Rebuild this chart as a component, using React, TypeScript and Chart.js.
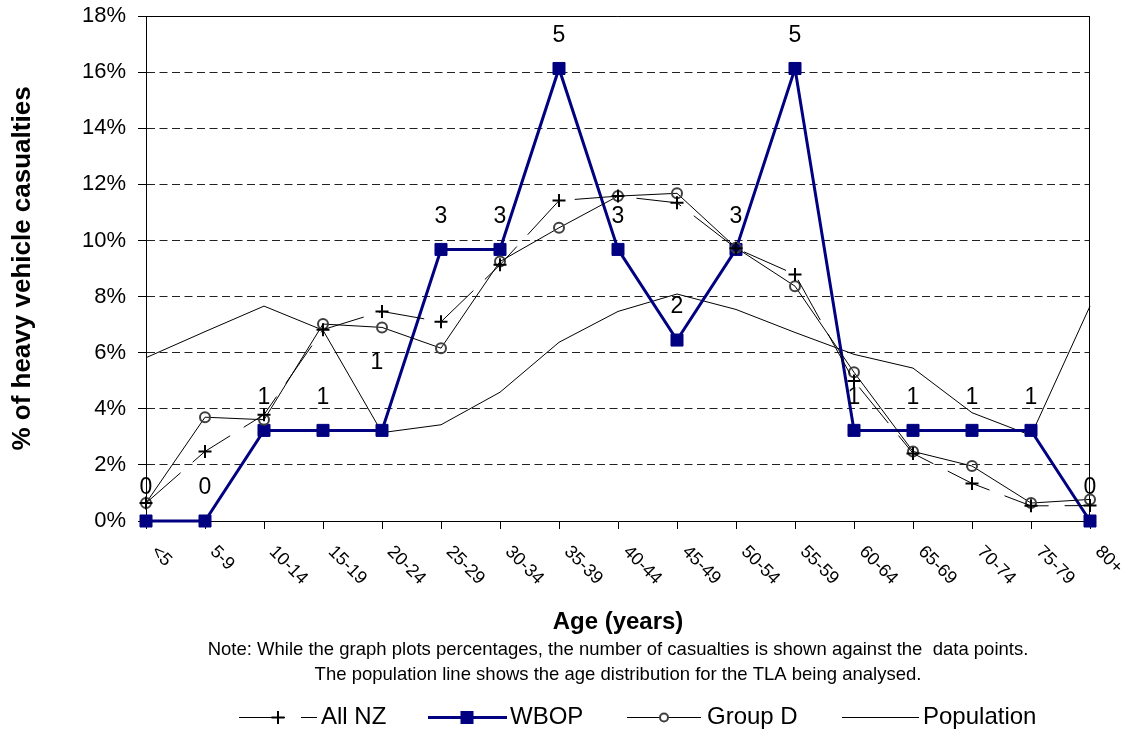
import React, { useEffect, useRef } from 'react';
import { Chart, registerables } from 'chart.js';

Chart.register(...registerables);

const AGE_GROUPS = ['<5', '5-9', '10-14', '15-19', '20-24', '25-29', '30-34', '35-39', '40-44', '45-49', '50-54', '55-59', '60-64', '65-69', '70-74', '75-79', '80+'];
const WBOP = [0, 0, 3.23, 3.23, 3.23, 9.68, 9.68, 16.13, 9.68, 6.45, 9.68, 16.13, 3.23, 3.23, 3.23, 3.23, 0];
const WBOP_COUNTS = [0, 0, 1, 1, 1, 3, 3, 5, 3, 2, 3, 5, 1, 1, 1, 1, 0];
const ALL_NZ = [0.64, 2.48, 3.79, 6.82, 7.47, 7.1, 9.13, 11.42, 11.58, 11.34, 9.72, 8.79, 4.99, 2.41, 1.34, 0.54, 0.55];
const GROUP_D = [0.64, 3.7, 3.61, 7.02, 6.9, 6.16, 9.25, 10.45, 11.58, 11.68, 9.74, 8.37, 5.3, 2.48, 1.96, 0.64, 0.77];
const POPULATION = [5.82, 6.75, 7.66, 6.8, 3.15, 3.43, 4.59, 6.37, 7.47, 8.09, 7.54, 6.72, 5.94, 5.45, 3.86, 3.05, 7.66];
const Y_MIN = 0;
const Y_MAX = 18;
const Y_STEP = 2;

const Y_TITLE = '% of heavy vehicle casualties';
const X_TITLE = 'Age (years)';
const NOTE_LINES = [
  'Note: While the graph plots percentages, the number of casualties is shown against the  data points.',
  'The population line shows the age distribution for the TLA being analysed.',
];
const LEGEND_LABELS = ['All NZ', 'WBOP', 'Group D', 'Population'];

const FONT = "'Liberation Sans', Arial, sans-serif";
const NAVY = '#000080';
const CIRCLE_GREY = '#404040';
const NZ_DASH = [46, 16];

const W = 1124;
const H = 731;

const decorPlugin = {
  id: 'decor',
  beforeDatasetsDraw(chart: any) {
    const { ctx, chartArea } = chart;
    ctx.save();
    ctx.strokeStyle = '#000';
    ctx.lineWidth = 1;
    ctx.setLineDash([]);
    ctx.beginPath();
    const t = Math.round(chartArea.top) + 0.5;
    const r = Math.round(chartArea.right) - 0.5;
    const b = Math.round(chartArea.bottom) + 0.5;
    ctx.moveTo(Math.round(chartArea.left) - 0.5, t);
    ctx.lineTo(r, t);
    ctx.lineTo(r, b);
    ctx.stroke();
    ctx.restore();
  },
  afterDatasetsDraw(chart: any) {
    const { ctx } = chart;
    const meta = chart.getDatasetMeta(2);
    ctx.save();
    ctx.fillStyle = '#000';
    ctx.font = `23px ${FONT}`;
    ctx.textAlign = 'center';
    ctx.textBaseline = 'middle';
    meta.data.forEach((pt: any, i: number) => {
      let dy = 33;
      let dx = 0;
      if (i === 4) {
        dy = 68;
        dx = -5;
      }
      ctx.fillText(String(WBOP_COUNTS[i]), pt.x + dx, pt.y - dy);
    });
    ctx.restore();
  },
  afterDraw(chart: any) {
    const { ctx, scales } = chart;
    const xs = scales.x;
    ctx.save();
    ctx.fillStyle = '#000';
    // rotated x tick labels
    ctx.font = `18px ${FONT}`;
    ctx.textAlign = 'left';
    ctx.textBaseline = 'middle';
    AGE_GROUPS.forEach((lab, i) => {
      const x = xs.getPixelForValue(i);
      ctx.save();
      ctx.translate(x + 8, 549);
      ctx.rotate(Math.PI / 4);
      ctx.fillText(lab, 0, 0);
      ctx.restore();
    });
    // x title
    const cx = (chart.chartArea.left + chart.chartArea.right) / 2;
    ctx.textAlign = 'center';
    ctx.font = `bold 24px ${FONT}`;
    ctx.fillText(X_TITLE, cx, 622);
    ctx.font = `18.5px ${FONT}`;
    ctx.fillText(NOTE_LINES[0], cx, 650);
    ctx.fillText(NOTE_LINES[1], cx, 675);

    // legend
    const ly = 717.5;
    ctx.font = `24px ${FONT}`;
    ctx.textAlign = 'left';
    // All NZ
    ctx.strokeStyle = '#000';
    ctx.lineWidth = 1;
    ctx.setLineDash(NZ_DASH);
    ctx.beginPath();
    ctx.moveTo(239, ly);
    ctx.lineTo(317, ly);
    ctx.stroke();
    ctx.setLineDash([]);
    ctx.lineWidth = 2;
    ctx.beginPath();
    ctx.moveTo(278 - 6.5, ly);
    ctx.lineTo(278 + 6.5, ly);
    ctx.moveTo(278, ly - 6.5);
    ctx.lineTo(278, ly + 6.5);
    ctx.stroke();
    ctx.fillText(LEGEND_LABELS[0], 321, ly);
    // WBOP
    ctx.strokeStyle = NAVY;
    ctx.lineWidth = 3;
    ctx.beginPath();
    ctx.moveTo(428, ly);
    ctx.lineTo(507, ly);
    ctx.stroke();
    ctx.fillStyle = NAVY;
    ctx.fillRect(467 - 6.5, ly - 6.5, 13, 13);
    ctx.fillStyle = '#000';
    ctx.fillText(LEGEND_LABELS[1], 510, ly);
    // Group D
    ctx.strokeStyle = '#000';
    ctx.lineWidth = 1;
    ctx.beginPath();
    ctx.moveTo(627, ly);
    ctx.lineTo(701, ly);
    ctx.stroke();
    ctx.fillStyle = '#fff';
    ctx.strokeStyle = CIRCLE_GREY;
    ctx.lineWidth = 2;
    ctx.beginPath();
    ctx.arc(664, ly, 4, 0, Math.PI * 2);
    ctx.fill();
    ctx.stroke();
    ctx.fillStyle = '#000';
    ctx.fillText(LEGEND_LABELS[2], 707, ly);
    // Population
    ctx.strokeStyle = '#000';
    ctx.lineWidth = 1;
    ctx.beginPath();
    ctx.moveTo(842, ly);
    ctx.lineTo(919, ly);
    ctx.stroke();
    ctx.fillText(LEGEND_LABELS[3], 923, ly);
    ctx.restore();
  },
};

export default function App() {
  const ref = useRef<HTMLCanvasElement | null>(null);

  useEffect(() => {
    const canvas = ref.current;
    if (!canvas) return;
    Chart.defaults.font.family = FONT;
    Chart.defaults.color = '#000';
    const chart = new Chart(canvas, {
      type: 'line',
      data: {
        labels: AGE_GROUPS,
        datasets: [
          {
            label: 'All NZ',
            data: ALL_NZ,
            borderColor: '#000',
            borderWidth: 1,
            borderDash: NZ_DASH,
            pointStyle: 'cross',
            pointRadius: 6.5,
            pointBorderWidth: 2,
            pointBorderColor: '#000',
            pointBackgroundColor: '#000',
            tension: 0,
            clip: false,
          },
          {
            label: 'Group D',
            data: GROUP_D,
            borderColor: '#000',
            borderWidth: 1,
            pointStyle: 'circle',
            pointRadius: 5,
            pointBorderWidth: 2,
            pointBorderColor: CIRCLE_GREY,
            pointBackgroundColor: 'rgba(0,0,0,0)',
            tension: 0,
            clip: false,
          },
          {
            label: 'WBOP',
            data: WBOP,
            borderColor: NAVY,
            borderWidth: 3,
            pointStyle: 'rect',
            pointRadius: 8.5,
            pointBorderWidth: 1,
            pointBorderColor: NAVY,
            pointBackgroundColor: NAVY,
            tension: 0,
            clip: false,
          },
          {
            label: 'Population',
            data: POPULATION,
            borderColor: '#000',
            borderWidth: 1,
            pointRadius: 0,
            tension: 0,
            clip: false,
          },
        ],
      },
      options: {
        responsive: false,
        animation: false,
        devicePixelRatio: 1,
        layout: { padding: { top: 16, right: 34, left: 0, bottom: 0 } },
        plugins: {
          legend: { display: false },
          tooltip: { enabled: false },
        },
        scales: {
          x: {
            type: 'category',
            offset: false,
            grid: {
              display: true,
              drawOnChartArea: false,
              drawTicks: true,
              tickLength: 8,
              color: '#000',
              offset: false,
            },
            border: { display: true, color: '#000', width: 1 },
            ticks: { display: false },
            afterFit: (s: any) => {
              s.height = H - 521;
              s.paddingLeft = 0;
              s.paddingRight = 0;
            },
          },
          y: {
            min: Y_MIN,
            max: Y_MAX,
            ticks: {
              stepSize: Y_STEP,
              padding: 12,
              color: '#000',
              font: { size: 22, family: FONT },
              callback: (v: any) => `${v}%`,
            },
            grid: {
              color: '#222',
              lineWidth: 1,
              drawTicks: true,
              tickLength: 8,
              tickColor: '#000',
            },
            border: { display: true, color: '#000', width: 1, dash: [8, 4.5] },
            title: {
              display: true,
              text: Y_TITLE,
              color: '#000',
              font: { size: 26, weight: 'bold', family: FONT },
              padding: { top: 7, bottom: 0 },
            },
            afterFit: (s: any) => {
              s.width = 146;
              s.paddingTop = 0;
              s.paddingBottom = 0;
            },
          },
        },
      },
      plugins: [decorPlugin],
    });
    return () => chart.destroy();
  }, []);

  return (
    <div style={{ position: 'absolute', left: 0, top: 0, width: W, height: H, background: '#fff' }}>
      <canvas ref={ref} width={W} height={H} style={{ display: 'block', width: W, height: H }} />
    </div>
  );
}
